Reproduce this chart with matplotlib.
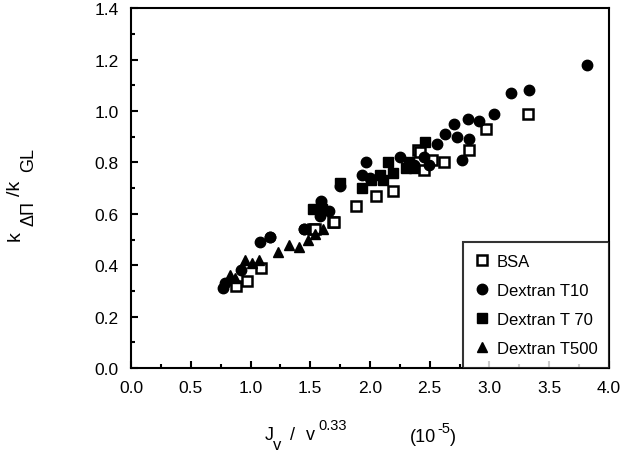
import matplotlib.pyplot as plt
from matplotlib.ticker import MultipleLocator

plt.rcParams['font.family'] = ['Liberation Sans', 'DejaVu Sans']

# BSA (open squares)
bsa_x = [0.88, 0.97, 1.09, 1.52, 1.54, 1.69, 1.70, 1.88, 2.05, 2.19,
         2.40, 2.42, 2.45, 2.52, 2.62, 2.83, 2.97, 3.32]
bsa_y = [0.32, 0.34, 0.39, 0.54, 0.54, 0.57, 0.57, 0.63, 0.67, 0.69,
         0.85, 0.84, 0.77, 0.81, 0.80, 0.85, 0.93, 0.99]

# Dextran T10 (filled circles)
t10_x = [0.77, 0.79, 0.92, 1.08, 1.16, 1.16, 1.45, 1.45, 1.58, 1.59,
         1.66, 1.75, 1.93, 1.97, 2.00, 2.25, 2.37, 2.45, 2.49, 2.56,
         2.63, 2.70, 2.73, 2.77, 2.82, 2.83, 2.91, 3.04, 3.18, 3.33, 3.82]
t10_y = [0.31, 0.33, 0.38, 0.49, 0.51, 0.51, 0.54, 0.54, 0.59, 0.65,
         0.61, 0.71, 0.75, 0.80, 0.74, 0.82, 0.79, 0.82, 0.79, 0.87,
         0.91, 0.95, 0.90, 0.81, 0.97, 0.89, 0.96, 0.99, 1.07, 1.08, 1.18]

# Dextran T 70 (filled squares)
t70_x = [1.52, 1.59, 1.60, 1.75, 1.93, 2.01, 2.08, 2.11, 2.15, 2.19,
         2.30, 2.33, 2.37, 2.46]
t70_y = [0.62, 0.64, 0.62, 0.72, 0.70, 0.73, 0.75, 0.73, 0.80, 0.76,
         0.78, 0.80, 0.78, 0.88]

# Dextran T500 (filled triangles)
t500_x = [0.83, 0.87, 0.95, 1.01, 1.07, 1.23, 1.32, 1.41, 1.48, 1.54, 1.61]
t500_y = [0.36, 0.35, 0.42, 0.41, 0.42, 0.45, 0.48, 0.47, 0.50, 0.52, 0.54]

W, H = 623, 456
fig = plt.figure(figsize=(W / 100, H / 100), dpi=100)
ax = fig.add_axes([0.2103, 0.1908, 0.7672, 0.789])

ax.plot(bsa_x, bsa_y, 's', ms=6.5, mfc='white', mec='black', mew=1.8, ls='none', label='BSA')
ax.plot(t10_x, t10_y, 'o', ms=7.5, color='black', ls='none', label='Dextran T10')
ax.plot(t70_x, t70_y, 's', ms=7, color='black', ls='none', label='Dextran T 70')
ax.plot(t500_x, t500_y, '^', ms=7.5, color='black', ls='none', label='Dextran T500')

ax.set_xlim(0, 4)
ax.set_ylim(0, 1.4)
ax.xaxis.set_major_locator(MultipleLocator(0.5))
ax.xaxis.set_minor_locator(MultipleLocator(0.25))
ax.yaxis.set_major_locator(MultipleLocator(0.2))
ax.yaxis.set_minor_locator(MultipleLocator(0.1))
ax.xaxis.set_major_formatter(plt.FormatStrFormatter('%.1f'))
ax.yaxis.set_major_formatter(plt.FormatStrFormatter('%.1f'))
ax.tick_params(which='both', direction='in', top=False, right=False, labelsize=12.5, width=1.5)
ax.tick_params(which='major', length=5, pad=9)
ax.tick_params(which='minor', length=3)
for s in ax.spines.values():
    s.set_linewidth(1.5)


def txt(x, y, s, size, **kw):
    fig.text(x / W, 1 - y / H, s, fontsize=size, **kw)


# x axis label: J_v / v^0.33   (10^-5)
txt(265, 440, 'J', 13, va='baseline')
txt(273, 450, 'v', 12, va='baseline')
txt(290, 440, '/', 13, va='baseline')
txt(306, 440, 'v', 13, va='baseline')
txt(318, 430, '0.33', 10.5, va='baseline')
txt(410, 442, '(10', 13, va='baseline')
txt(437, 433, '-5', 10.5, va='baseline')
txt(450, 442, ')', 13, va='baseline')

# y axis label: k_ΔΠ / k_GL
rot = dict(rotation=90, ha='center', va='center')
txt(15, 236, 'k', 14, **rot)
txt(29, 214, 'ΔΠ', 13, **rot)
txt(15, 188, '/k', 14, **rot)
txt(29, 160, 'GL', 13, **rot)

leg = ax.legend(loc='lower right', fontsize=12, borderaxespad=0, frameon=True,
                fancybox=False, edgecolor='black', handlelength=0.8,
                handletextpad=0.5, labelspacing=0.85, borderpad=0.7)
leg.get_frame().set_linewidth(1.5)

fig.savefig('out.png', dpi=100)
